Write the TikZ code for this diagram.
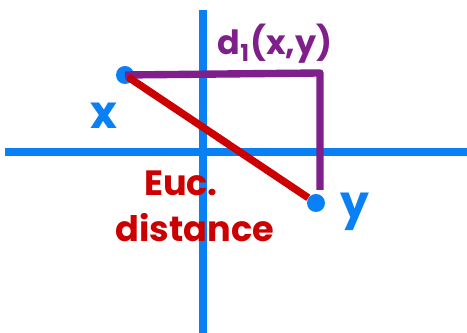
\documentclass[tikz,border=0pt]{standalone}
\usepackage{fontspec}
\setmainfont{Poppins}
\usepackage{xcolor}
\usepackage{tikz}
\usetikzlibrary{arrows.meta,positioning,calc}

\definecolor{axisblue}{HTML}{0A80F5}
\definecolor{eucred}{HTML}{CC0000}
\definecolor{manpurple}{HTML}{7E1F8C}

\begin{document}
\begin{tikzpicture}[
  x={(0.02cm,0cm)},
  y={(0cm,-0.02cm)},
  axis/.style={axisblue, line width=4.2pt},
  pt/.style={circle, fill=axisblue, inner sep=0pt, minimum size=0.36cm},
  lab/.style={font=\bfseries\fontsize{20}{22}\selectfont}
]
\useasboundingbox (0,0) rectangle (467,333);

\coordinate (L) at (5,152);
\coordinate (R) at (467,152);
\coordinate (T) at (203,10);
\coordinate (B) at (203,333);
\draw[axis] (L) -- (R);
\draw[axis] (T) -- (B);

\node[pt] (x) at (125,75) {};
\node[pt] (y) at (316,203) {};
\coordinate (corner) at (320,73);
\coordinate (down) at (320,190);

\draw[manpurple, line width=4.2pt, line join=round] (x.center) -- (corner) -- (down);
\draw[eucred, line width=4.2pt, shorten <=2pt] (x.center) -- (y);

\node[lab, text=axisblue, font=\bfseries\fontsize{26}{28}\selectfont] (xlab) at (104,116) {x};
\node[lab, text=axisblue, font=\bfseries\fontsize{26}{28}\selectfont] (ylab) at (355,212) {y};
\node[lab, text=manpurple, font=\bfseries\fontsize{19}{21}\selectfont] (dlab) at (275,44) {d\textsubscript{1}(x,y)};
\node[lab, text=eucred, align=center] (euc) at (195,206) {\hspace*{-16pt}Euc.\\[4pt]distance};
\end{tikzpicture}
\end{document}
